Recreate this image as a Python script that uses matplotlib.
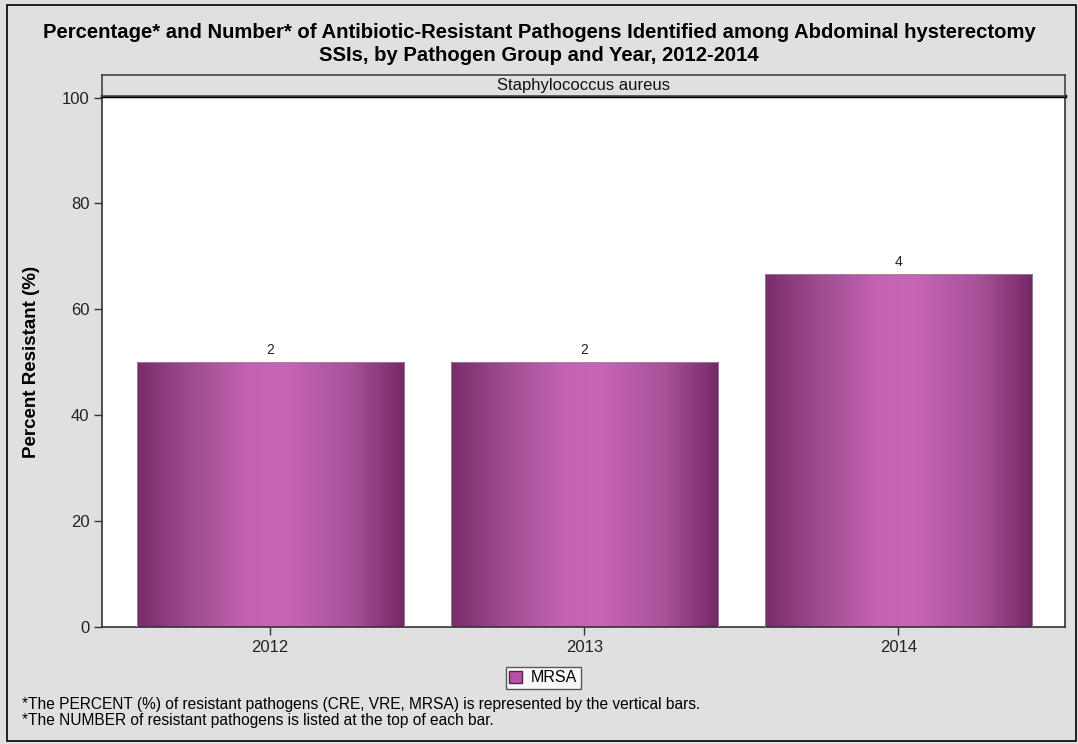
import numpy as np
import matplotlib
matplotlib.use("Agg")
import matplotlib.pyplot as plt
from matplotlib.colors import LinearSegmentedColormap
from matplotlib.patches import Rectangle, Patch

plt.rcParams['font.family'] = ['Liberation Sans', 'DejaVu Sans']

# Data
years = ["2012", "2013", "2014"]
percent_resistant = [50.0, 50.0, 66.67]
num_resistant = [2, 2, 4]
pathogen_group = "Staphylococcus aureus"
legend_label = "MRSA"
y_ticks = [0, 20, 40, 60, 80, 100]

title = ("Percentage* and Number* of Antibiotic-Resistant Pathogens Identified among Abdominal hysterectomy\n"
         "SSIs, by Pathogen Group and Year, 2012-2014")
footnotes = ["*The PERCENT (%) of resistant pathogens (CRE, VRE, MRSA) is represented by the vertical bars.",
             "*The NUMBER of resistant pathogens is listed at the top of each bar."]

BG = "#e0e0e0"
W, H = 1078, 744
fig = plt.figure(figsize=(W / 100, H / 100), dpi=100, facecolor=BG)

# outer frame
fig.patches.append(Rectangle((7 / W, 1 - 741 / H), (1076 - 7) / W, (741 - 5) / H,
                             transform=fig.transFigure, fill=False, edgecolor="black",
                             linewidth=1.2, zorder=0))

left, right, bottom, top = 102 / W, 1065 / W, 1 - 627 / H, 1 - 96 / H
ax = fig.add_axes([left, bottom, right - left, top - bottom])
ax.set_facecolor("white")

x = np.arange(len(years))
bars = ax.bar(x, percent_resistant, width=0.85, color="none", edgecolor="#9a8a98",
              linewidth=0.6, zorder=3)

# horizontal shading inside each bar
grad_cmap = LinearSegmentedColormap.from_list(
    "mrsa_shade",
    [(0.0, "#7a2b6c"), (0.18, "#9a4a8c"), (0.42, "#c563b3"), (0.55, "#c866b6"),
     (0.8, "#a9519a"), (1.0, "#762866")])
shade = np.linspace(0, 1, 256).reshape(1, -1)
for b in bars:
    x0, w, h = b.get_x(), b.get_width(), b.get_height()
    ax.imshow(shade, cmap=grad_cmap, aspect="auto", extent=(x0, x0 + w, 0, h),
              interpolation="bilinear", zorder=2)

for b, n in zip(bars, num_resistant):
    ax.text(b.get_x() + b.get_width() / 2, b.get_height() + 1.0, str(n),
            ha="center", va="bottom", fontsize=10, color="#222222")

ax.set_xlim(-0.535, 2.53)
ax.set_ylim(0, 100.3)
ax.set_xticks(x)
ax.set_xticklabels(years)
ax.set_yticks(y_ticks)
ax.tick_params(axis="both", direction="out", length=6, width=1, labelsize=12,
               colors="#333333", labelcolor="#222222", pad=3)
for s in ax.spines.values():
    s.set_color("#333333")
    s.set_linewidth(1.2)
ax.spines["top"].set_linewidth(2.5)
ax.spines["top"].set_color("black")

# header strip
strip = fig.add_axes([left, top, right - left, (96 - 75) / H])
strip.set_facecolor(BG)
strip.set_xticks([])
strip.set_yticks([])
for s in strip.spines.values():
    s.set_color("#444444")
    s.set_linewidth(1.2)
strip.text(0.5, 0.5, pathogen_group, ha="center", va="center", fontsize=12,
           color="#111111", transform=strip.transAxes)

fig.text(0.5, 1 - 44 / H, title, ha="center", va="center", fontsize=14.6,
         fontweight="bold", linespacing=1.22)
fig.text(32 / W, 1 - 362 / H, "Percent Resistant (%)", rotation=90, ha="center",
         va="center", fontsize=13.5, fontweight="bold")

leg = fig.legend(handles=[Patch(facecolor="#b553a5", edgecolor="#5a1f50", label=legend_label)],
                 loc="center", bbox_to_anchor=(543 / W, 1 - 678 / H), frameon=True,
                 fancybox=False, edgecolor="#333333", fontsize=11.5, handlelength=0.8,
                 handleheight=0.8, handletextpad=0.5, borderpad=0.25, borderaxespad=0)
leg.get_frame().set_linewidth(1.0)

fig.text(22 / W, 1 - 704 / H, footnotes[0], ha="left", va="center", fontsize=11.2)
fig.text(22 / W, 1 - 721 / H, footnotes[1], ha="left", va="center", fontsize=11.2)

fig.savefig("out.png", dpi=100, facecolor=BG)
